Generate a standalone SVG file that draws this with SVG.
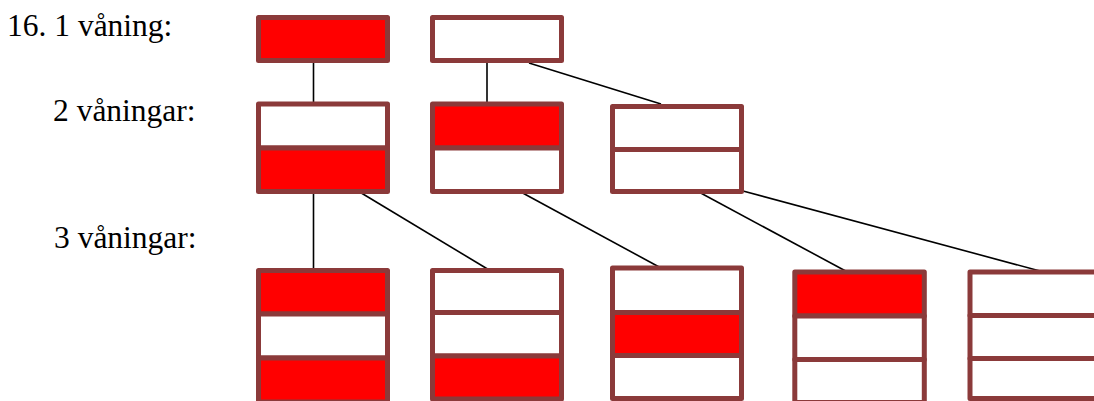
<svg xmlns="http://www.w3.org/2000/svg" width="1094" height="401" viewBox="0 0 1094 401">
<style>
.lbl{font-family:"Liberation Serif","Times New Roman",serif;font-size:31.5px;fill:#000}
.cell{stroke:#8B3A3A;stroke-width:5;stroke-linejoin:round}
.r{fill:#FF0000}
.w{fill:#FFFFFF}
.con{stroke:#000;stroke-width:1.6;fill:none}
</style>
<rect x="0" y="0" width="1094" height="401" fill="#fff"/>
<g id="labels">
<text class="lbl" x="7" y="36">16. 1 våning:</text>
<text class="lbl" x="53" y="121">2 våningar:</text>
<text class="lbl" x="54" y="248">3 våningar:</text>
</g>
<g id="connectors">
<line class="con" x1="313.5" y1="63" x2="313.5" y2="102"/>
<line class="con" x1="487" y1="63" x2="487" y2="102"/>
<line class="con" x1="529" y1="63" x2="661" y2="104"/>
<line class="con" x1="313.5" y1="194" x2="313.5" y2="270"/>
<line class="con" x1="358" y1="191" x2="487.5" y2="269"/>
<line class="con" x1="519" y1="191" x2="661" y2="268"/>
<line class="con" x1="697" y1="191" x2="847.5" y2="272"/>
<line class="con" x1="743" y1="191" x2="1040" y2="271"/>
</g>
<g id="n1a">
<rect class="cell r" x="258.5" y="17.5" width="129" height="43"/>
</g>
<g id="n1b">
<rect class="cell w" x="432.5" y="17.5" width="129" height="43"/>
</g>
<g id="n2a">
<rect class="cell w" x="258.5" y="104" width="129" height="44"/>
<rect class="cell r" x="258.5" y="148" width="129" height="43.5"/>
</g>
<g id="n2b">
<rect class="cell r" x="432.5" y="104" width="129" height="44"/>
<rect class="cell w" x="432.5" y="148" width="129" height="43.5"/>
</g>
<g id="n2c">
<rect class="cell w" x="612.5" y="106.5" width="129" height="43"/>
<rect class="cell w" x="612.5" y="149.5" width="129" height="42"/>
</g>
<g id="n3a">
<rect class="cell r" x="258.5" y="270.5" width="129" height="43.5"/>
<rect class="cell w" x="258.5" y="314" width="129" height="44"/>
<rect class="cell r" x="258.5" y="358" width="129" height="44"/>
</g>
<g id="n3b">
<rect class="cell w" x="432.5" y="270.5" width="129" height="42"/>
<rect class="cell w" x="432.5" y="312.5" width="129" height="43.5"/>
<rect class="cell r" x="432.5" y="356" width="129" height="43"/>
</g>
<g id="n3c">
<rect class="cell w" x="612.5" y="268" width="129" height="44.5"/>
<rect class="cell r" x="612.5" y="312.5" width="129" height="43"/>
<rect class="cell w" x="612.5" y="355.5" width="129" height="43"/>
</g>
<g id="n3d">
<rect class="cell r" x="794.8" y="272" width="129.5" height="44"/>
<rect class="cell w" x="794.8" y="316" width="129.5" height="43.5"/>
<rect class="cell w" x="794.8" y="359.5" width="129.5" height="43"/>
</g>
<g id="n3e">
<rect class="cell w" x="970" y="272" width="135" height="43.5"/>
<rect class="cell w" x="970" y="315.5" width="135" height="43"/>
<rect class="cell w" x="970" y="358.5" width="135" height="40"/>
</g>
</svg>
